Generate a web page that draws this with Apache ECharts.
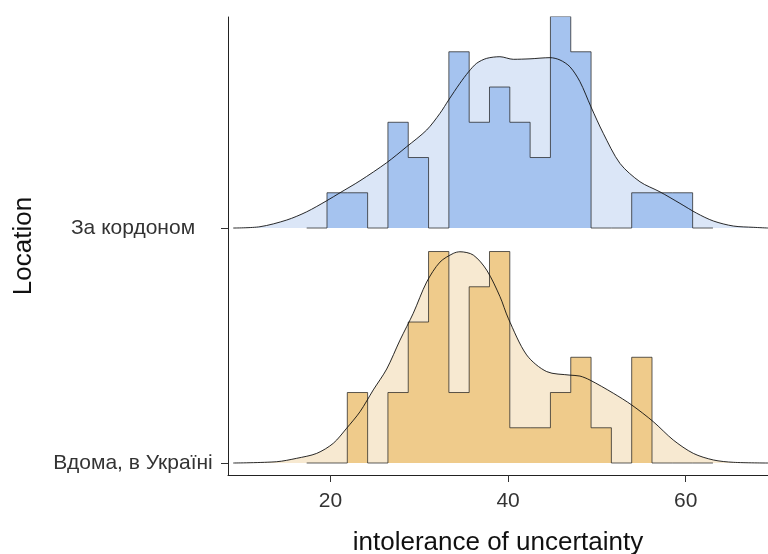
<!DOCTYPE html>
<html>
<head>
<meta charset="utf-8">
<script src="https://cdn.jsdelivr.net/npm/echarts@6/dist/echarts.min.js"></script>
<style>
  html, body { margin: 0; padding: 0; background: #fff; }
  #chart { width: 768px; height: 554px; }
</style>
</head>
<body>
<div id="chart"></div>
<script>
// Ridge rows, bottom to top
const locations = ['Вдома, в Україні', 'За кордоном'];
const xTicks = [20, 40, 60];

// Histogram bins (20 bins)
const binStart = 17.32;
const binWidth = 2.2875;
const countsHome = [0, 0, 2, 0, 2, 4, 6, 2, 5, 6, 1, 1, 2, 3, 1, 0, 3, 0, 0, 0];
const countsAbroad = [0, 1, 1, 0, 3, 2, 0, 5, 3, 4, 3, 2, 6, 5, 0, 0, 1, 1, 1, 0];

// Density curves, heights as a fraction of the row spacing
const densXAbroad = [9.05, 12.06, 15.07, 17.32, 19.57, 21.07, 23.32, 26.33, 28.58, 30.83, 32.33, 33.31,
  34.58, 35.56, 36.46, 37.59, 39.08, 40.59, 42.47, 44.72, 45.85, 46.97, 48.09, 49.33, 50.72, 52.60,
  54.85, 57.10, 59.35, 61.24, 63.11, 65.36, 67.61, 69.27];
const densHAbroad = [0, 0.0055, 0.034, 0.069, 0.116, 0.150, 0.201, 0.278, 0.346, 0.417, 0.488, 0.545,
  0.616, 0.665, 0.701, 0.722, 0.729, 0.718, 0.720, 0.725, 0.715, 0.686, 0.623, 0.516, 0.403, 0.275,
  0.197, 0.154, 0.105, 0.063, 0.030, 0.0085, 0.003, 0];

const densXHome = [9.05, 13.94, 16.19, 18.45, 20.32, 21.82, 23.32, 24.82, 26.33, 27.83, 29.32, 30.83,
  32.33, 33.83, 34.58, 36.08, 37.59, 39.09, 40.02, 42.09, 44.35, 46.97, 48.09, 49.22, 51.85, 53.92,
  56.35, 58.60, 60.86, 63.11, 65.36, 69.27];
const densHHome = [0, 0.0055, 0.020, 0.041, 0.084, 0.148, 0.218, 0.311, 0.400, 0.523, 0.637, 0.770,
  0.855, 0.892, 0.899, 0.885, 0.821, 0.708, 0.616, 0.460, 0.389, 0.374, 0.370, 0.353, 0.297, 0.247,
  0.176, 0.098, 0.041, 0.013, 0.003, 0];

// Tallest histogram bar fills 90% of the row spacing
const ridgeScale = 0.9;
const maxCount = Math.max(...countsHome, ...countsAbroad);

function histOutline(counts, base) {
  const pts = [];
  counts.forEach((c, i) => {
    const y = base + c * ridgeScale / maxCount;
    pts.push([binStart + i * binWidth, y]);
    pts.push([binStart + (i + 1) * binWidth, y]);
  });
  return pts;
}
function densityPoints(xs, hs, base) {
  return xs.map((x, i) => [x, base + hs[i]]);
}

function ridgeSeries(counts, xs, hs, base, histColor, densColor) {
  const dens = densityPoints(xs, hs, base);
  return [
    {
      type: 'line', data: dens, smooth: 0.3, showSymbol: false, silent: true,
      lineStyle: { width: 0 },
      areaStyle: { color: densColor, opacity: 1, origin: base }
    },
    {
      type: 'line', data: histOutline(counts, base), showSymbol: false, silent: true,
      lineStyle: { color: 'rgba(30,30,30,0.72)', width: 1 },
      areaStyle: { color: histColor, opacity: 1, origin: base }
    },
    {
      type: 'line', data: dens, smooth: 0.3, showSymbol: false, silent: true,
      lineStyle: { color: '#111', width: 0.9 }
    }
  ];
}

const chart = echarts.init(document.getElementById('chart'), null, { renderer: 'canvas' });

const textFont = 'Liberation Sans, Arial, sans-serif';

chart.setOption({
  animation: false,
  backgroundColor: '#ffffff',
  grid: { left: 228, top: 17, width: 540, height: 458, containLabel: false, outerBoundsMode: 'none' },
  xAxis: {
    type: 'value', min: 8.46, max: 69.27,
    name: 'intolerance of uncertainty', nameLocation: 'middle', nameGap: 55,
    nameTextStyle: { fontFamily: textFont, fontSize: 26, color: '#111' },
    axisLine: { onZero: false, lineStyle: { color: '#222', width: 1 } },
    axisTick: { show: true, length: 7, customValues: xTicks, lineStyle: { color: '#333' } },
    axisLabel: { customValues: xTicks, margin: 16, fontFamily: textFont, fontSize: 21, color: '#333' },
    splitLine: { show: false }
  },
  yAxis: {
    type: 'value', min: 0.949, max: 2.898,
    name: 'Location', nameLocation: 'middle', nameGap: 191,
    nameTextStyle: { fontFamily: textFont, fontSize: 26, color: '#111' },
    axisLine: { onZero: false, lineStyle: { color: '#222', width: 1 } },
    axisTick: { show: true, length: 7, customValues: [1, 2], lineStyle: { color: '#333' } },
    axisLabel: {
      customValues: [1, 2], margin: 95, align: 'center',
      fontFamily: textFont, fontSize: 21, color: '#333',
      formatter: v => locations[Math.round(v) - 1]
    },
    splitLine: { show: false }
  },
  series: [
    ...ridgeSeries(countsAbroad, densXAbroad, densHAbroad, 2, '#a5c3ef', '#dbe6f7'),
    ...ridgeSeries(countsHome, densXHome, densHHome, 1, '#efcb8b', '#f7e9d1')
  ]
});
</script>
</body>
</html>
